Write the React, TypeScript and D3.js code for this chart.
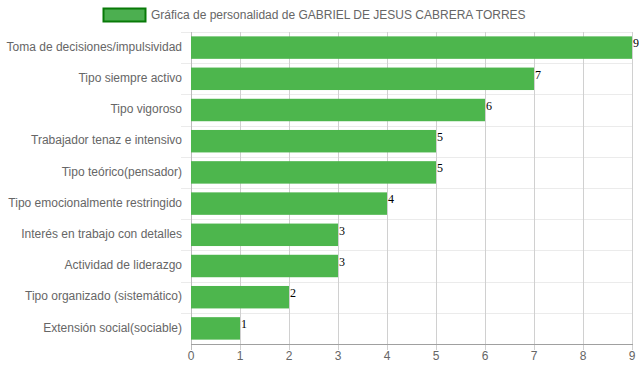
import React from 'react';
import * as d3 from 'd3';

// chart data
const categories = [
  'Toma de decisiones/impulsividad',
  'Tipo siempre activo',
  'Tipo vigoroso',
  'Trabajador tenaz e intensivo',
  'Tipo teórico(pensador)',
  'Tipo emocionalmente restringido',
  'Interés en trabajo con detalles',
  'Actividad de liderazgo',
  'Tipo organizado (sistemático)',
  'Extensión social(sociable)',
];
const values = [9, 7, 6, 5, 5, 4, 3, 3, 2, 1];
const xTicks = [0, 1, 2, 3, 4, 5, 6, 7, 8, 9];
const seriesLabel = 'Gráfica de personalidad de GABRIEL DE JESUS CABRERA TORRES';

const W = 639;
const H = 372;
const font = "'Liberation Sans', Arial, sans-serif";

const App = () => {
  const left = 191;
  const right = 632;
  const top = 32;
  const bottom = 344;

  const x = d3.scaleLinear().domain([0, 9]).range([left, right]);
  const y = d3.scaleBand().domain(categories).range([top, bottom]);
  const barH = y.bandwidth() * 0.72;

  return (
    <svg width={W} height={H} style={{ position: 'absolute', left: 0, top: 0 }}>
      {/* legend */}
      <rect x={103.5} y={8.5} width={42} height={13} fill="#4caf50" stroke="#087a08" strokeWidth={2} />
      <text x={151} y={19} fontFamily={font} fontSize={12} fill="#666">{seriesLabel}</text>

      {/* horizontal grid (between categories) */}
      {categories.map((c, i) => (
        <line key={'h' + i} x1={181} x2={right} y1={Math.round(y(c)!) + 0.5} y2={Math.round(y(c)!) + 0.5}
          stroke="#ebebeb" strokeWidth={1} />
      ))}

      {/* vertical grid */}
      {xTicks.map(t => (
        <line key={'v' + t} x1={Math.round(x(t)) + 0.5} x2={Math.round(x(t)) + 0.5} y1={top} y2={bottom + 6}
          stroke={t === 0 ? '#bbb' : '#d0d0d0'} strokeWidth={1} />
      ))}
      <line x1={left} x2={right + 1} y1={bottom + 0.5} y2={bottom + 0.5} stroke="#a0a0a0" />

      {/* bars */}
      {categories.map((c, i) => (
        <g key={'b' + i}>
          <rect x={x(0)} y={y(c)! + (y.bandwidth() - barH) / 2} width={x(values[i]) - x(0)} height={barH}
            fill="#4db64d" />
          <text x={x(values[i]) + 1} y={y(c)! + y.bandwidth() / 2 - 3} fontFamily="'Liberation Serif', serif"
            fontSize={12} fill="#000" dominantBaseline="middle">{values[i]}</text>
        </g>
      ))}

      {/* y labels */}
      {categories.map(c => (
        <text key={'l' + c} x={182} y={y(c)! + y.bandwidth() / 2} textAnchor="end" dominantBaseline="middle"
          fontFamily={font} fontSize={12} fill="#666">{c}</text>
      ))}

      {/* x tick labels */}
      {xTicks.map(t => (
        <text key={'t' + t} x={x(t)} y={360} textAnchor="middle" fontFamily={font} fontSize={12} fill="#666">{t}</text>
      ))}
    </svg>
  );
};

export default App;
